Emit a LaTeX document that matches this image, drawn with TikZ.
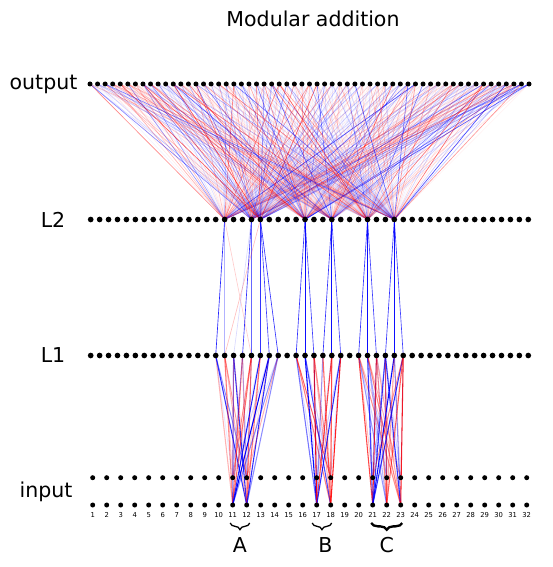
\documentclass[tikz,border=0pt]{standalone}
\usepackage{fontspec}
\setmainfont{DejaVu Sans}
\usetikzlibrary{positioning,decorations.pathreplacing}
\pgfdeclarelayer{edges}
\pgfsetlayers{edges,main}
\tikzset{
  dot/.style={circle, fill=black, inner sep=0pt, minimum size=0.17cm},
  wt/.style={line width=0.55pt},
  lbl/.style={font=\fontsize{17.5}{20}\selectfont},
  num/.style={font=\fontsize{5.8}{6}\selectfont, inner sep=1pt},
  grp/.style={decorate, decoration={brace, mirror, amplitude=0.2cm}, line width=1.1pt},
}
\begin{document}
\begin{tikzpicture}[x=0.03cm, y=-0.03cm]
        \useasboundingbox (0,0) rectangle (552,567);
        \node[lbl] (title) at (313,19) {Modular addition};
        % layer names
        \node[lbl] (nout) at (43.5,84) {output};
        \node[lbl] (ntwo) at (53,220) {L2};
        \node[lbl] (none) at (53,355.5) {L1};
        \node[lbl] (nin) at (46,492) {input};
        % neurons
        \foreach \k in {1,...,59}
          \node[dot, minimum size=0.15cm] (out\k) at ({90+(\k-1)*7.569}, 84) {};
        \foreach \j in {1,...,50} {
          \node[dot] (ltwo\j) at ({90.7+(\j-1)*8.93}, 219.5) {};
          \node[dot] (lone\j) at ({90.7+(\j-1)*8.93}, 355.5) {};
        }
        \foreach \i in {1,...,32} {
          \node[dot, minimum size=0.15cm] (inup\i) at ({92.7+(\i-1)*14}, 477.7) {};
          \node[dot, minimum size=0.15cm] (indn\i) at ({92.7+(\i-1)*14}, 505) {};
          \node[num, below=2.5pt of indn\i] (lab\i) {\i};
        }
        % groups of inputs
        \draw[grp] ([shift={(-2.5,18)}]indn11.center) -- ([shift={(3,18)}]indn12.center)
          node[lbl, midway, yshift=-19pt] (ga) {A};
        \draw[grp] ([shift={(-4.5,18)}]indn17.center) -- ([shift={(1,18)}]indn18.center)
          node[lbl, midway, xshift=3pt, yshift=-19pt] (gb) {B};
        \draw[grp, line width=2pt] ([shift={(-1.5,18)}]indn21.center) -- ([shift={(1.5,18)}]indn23.center)
          node[lbl, midway, yshift=-19pt] (gc) {C};
        \begin{pgfonlayer}{edges}
        \pgfmathsetseed{11}
        % L2 -> output, all weights
        \foreach \s in {16,19,20,25,28,32,35}
          \foreach \k in {1,...,59} {
            \pgfmathsetmacro\op{0.03+0.7*rnd*rnd}
            \pgfmathtruncatemacro\pick{rnd<0.5}
            \ifnum\pick=1 \def\ecol{red}\else\def\ecol{blue}\fi
            \draw[wt, draw=\ecol, draw opacity=\op] (ltwo\s.center) -- (out\k.center);
          }
        % L1 -> L2
        \foreach \s/\t/\col/\op in {16/15/blue/0.85, 16/16/blue/0.3, 16/19/red/0.2,
            19/17/blue/0.15, 19/18/blue/0.8, 19/19/blue/0.6, 20/16/red/0.25,
            20/20/blue/0.8, 20/21/blue/0.75, 20/22/blue/0.8,
            25/24/blue/0.8, 25/25/blue/0.95, 25/26/blue/0.75,
            28/27/blue/0.8, 28/28/blue/0.95, 28/29/blue/0.75,
            32/31/blue/0.8, 32/32/blue/0.95, 32/33/blue/0.75,
            35/34/blue/0.8, 35/35/blue/0.95, 35/36/blue/0.75}
          \draw[wt, draw=\col, draw opacity=\op] (ltwo\s.center) -- (lone\t.center);
        % input -> L1
        \foreach \first/\last/\ins in {15/22/{11,12}, 24/29/{17,18}, 31/36/{21,22,23}}
          \foreach \t in {\first,...,\last}
            \foreach \i in \ins {
              \pgfmathsetmacro\op{0.25+0.75*rnd}
              \pgfmathtruncatemacro\pick{rnd<0.5}
              \ifnum\pick=1 \def\ecol{red}\else\def\ecol{blue}\fi
              \draw[wt, line width=0.9pt, draw=\ecol, draw opacity=\op] (lone\t.center) -- (indn\i.center);
              \pgfmathsetmacro\op{0.08+0.6*rnd*rnd}
              \pgfmathtruncatemacro\pick{rnd<0.5}
              \ifnum\pick=1 \def\ecol{red}\else\def\ecol{blue}\fi
              \draw[wt, line width=0.8pt, draw=\ecol, draw opacity=\op] (lone\t.center) -- (inup\i.center);
            }
        \end{pgfonlayer}
      \end{tikzpicture}
\end{document}
